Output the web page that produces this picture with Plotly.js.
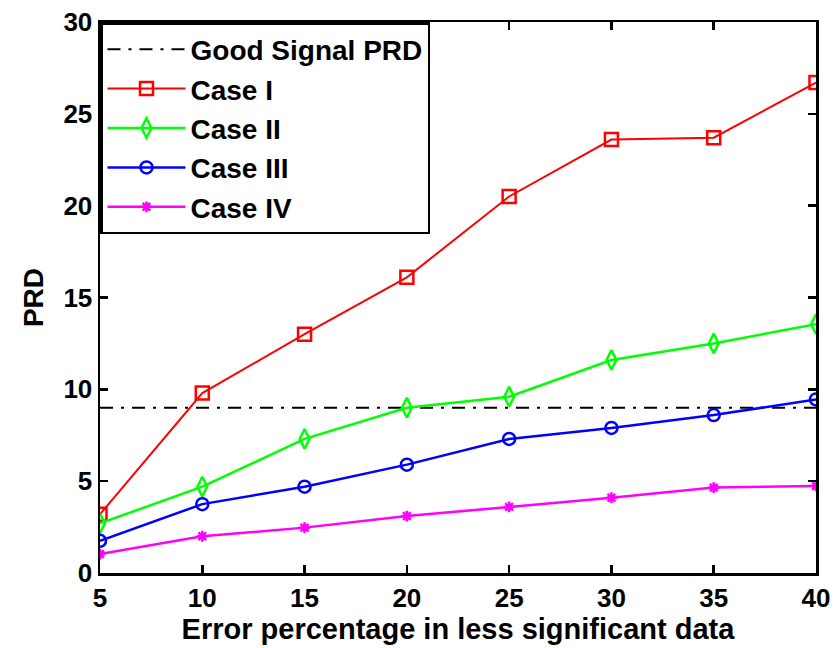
<!DOCTYPE html>
<html>
<head>
<meta charset="utf-8">
<script src="https://cdn.plot.ly/plotly-3.0.1.min.js"></script>
<style>html,body{margin:0;padding:0;background:#fff;}#chart{width:840px;height:648px;}</style>
</head>
<body>
<div id="chart"></div>
<script>
const errorPct = [5, 10, 15, 20, 25, 30, 35, 40];
const caseI   = [3.2, 9.8, 13.0, 16.1, 20.5, 23.6, 23.7, 26.7];
const caseII  = [2.7, 4.7, 7.3, 9.0, 9.6, 11.6, 12.5, 13.55];
const caseIII = [1.75, 3.75, 4.7, 5.9, 7.3, 7.9, 8.6, 9.45];
const caseIV  = [1.03, 2.0, 2.47, 3.1, 3.6, 4.1, 4.65, 4.74];
const goodSignalX = [5, 40];
const goodSignalPRD = [9, 9];
const seriesNames = ['Good Signal PRD', 'Case I', 'Case II', 'Case III', 'Case IV'];
const xTicks = [5, 10, 15, 20, 25, 30, 35, 40];
const yTicks = [0, 5, 10, 15, 20, 25, 30];

const baseFont = {family: 'Liberation Sans, Arial, sans-serif', weight: 'bold', color: '#000'};

const traces = [
  {x: goodSignalX, y: goodSignalPRD, name: seriesNames[0], mode: 'lines',
   line: {color: '#000', width: 2, dash: '13px,8px,3px,8px'}},
  {x: errorPct, y: caseI, name: seriesNames[1], mode: 'lines+markers',
   line: {color: '#ff0000', width: 2},
   marker: {symbol: 'square-open', size: 13, color: '#ff0000', line: {width: 2.5}}},
  {x: errorPct, y: caseII, name: seriesNames[2], mode: 'lines+markers',
   line: {color: '#00ff00', width: 2.5},
   marker: {symbol: 'diamond-tall-open', size: 14, color: '#00ff00', line: {width: 2.5}}},
  {x: errorPct, y: caseIII, name: seriesNames[3], mode: 'lines+markers',
   line: {color: '#0000ff', width: 2.5},
   marker: {symbol: 'circle-open', size: 12, color: '#0000ff', line: {width: 2.5}}},
  {x: errorPct, y: caseIV, name: seriesNames[4], mode: 'lines+markers',
   line: {color: '#ff00ff', width: 2.5},
   marker: {symbol: 'asterisk-open', size: 9, color: '#ff00ff', line: {width: 2.5, color: '#ff00ff'}}}
];

const axisCommon = {
  showline: true, linecolor: '#000', linewidth: 2.5, mirror: 'ticks',
  ticks: 'inside', ticklen: 8, tickwidth: 2.5, tickcolor: '#000',
  showgrid: false, zeroline: false,
  tickfont: Object.assign({size: 26}, baseFont)
};

const layout = {
  width: 840, height: 648,
  margin: {l: 100, r: 24, t: 22, b: 75},
  paper_bgcolor: '#fff', plot_bgcolor: '#fff',
  font: baseFont,
  xaxis: Object.assign({}, axisCommon, {
    range: [5, 40], tickvals: xTicks, ticktext: xTicks.map(String),
    title: {text: 'Error percentage in less significant data', font: Object.assign({size: 29}, baseFont), standoff: 2}
  }),
  yaxis: Object.assign({}, axisCommon, {
    range: [0, 30], tickvals: yTicks, ticktext: yTicks.map(String),
    title: {text: 'PRD', font: Object.assign({size: 28}, baseFont), standoff: 12}
  }),
  showlegend: true,
  legend: {
    x: 0, y: 1, xanchor: 'left', yanchor: 'top',
    bgcolor: '#fff', bordercolor: '#000', borderwidth: 2.5,
    font: Object.assign({size: 28}, baseFont),
    itemwidth: 78, tracegroupgap: 0
  }
};

Plotly.newPlot('chart', traces, layout, {displayModeBar: false, staticPlot: true});
</script>
</body>
</html>
